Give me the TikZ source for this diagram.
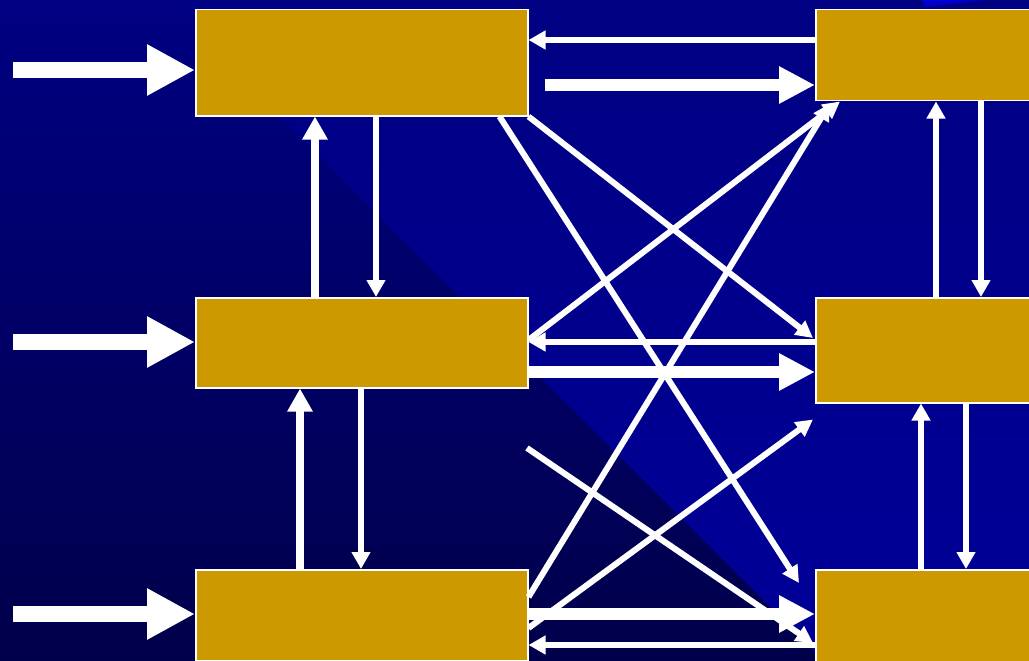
\documentclass[tikz,border=0pt]{standalone}
\usetikzlibrary{arrows.meta,calc}
\definecolor{gold}{HTML}{CC9900}
\definecolor{bgtop}{HTML}{000082}
\definecolor{bgbot}{HTML}{00004A}
\definecolor{rtop}{HTML}{000082}
\definecolor{rbot}{HTML}{000098}
\definecolor{streak}{HTML}{0000CC}
\tikzset{
  box/.style={draw=white, line width=1.5pt, fill=gold, inner sep=0pt, anchor=north west},
  bigarrow/.style={white, line width=16pt, -{Triangle[length=48pt,width=48pt]}},
  fatarrow/.style={white, line width=12pt, -{Triangle[length=36pt,width=35pt]}},
  midarrow/.style={white, line width=8pt, -{Triangle[length=23pt,width=24pt]}},
  thinarrow/.style={white, line width=6pt, -{Triangle[length=17pt,width=18pt]}},
  diagarrow/.style={white, line width=6pt, -{Triangle[length=17pt,width=17pt]}},
  diagline/.style={white, line width=6pt}
}
\begin{document}
\begin{tikzpicture}[x=1pt,y=-1pt]
\useasboundingbox (0,0) rectangle (1029,661);
\clip (0,0) rectangle (1029,661);
% background
\shade[top color=bgtop, bottom color=bgbot] (0,0) rectangle (1029,661);
\shade[top color=rtop, bottom color=rbot] (163,0) -- (1029,0) -- (1029,661) -- (824,661) -- cycle;
\fill[streak] (922,0) -- (925,7) -- (985,0) -- cycle;
% boxes
\node[box, minimum width=332pt, minimum height=106pt] (L1) at (195,9) {};
\node[box, minimum width=332pt, minimum height=90pt] (L2) at (195,297) {};
\node[box, minimum width=332pt, minimum height=91pt] (L3) at (195,569) {};
\node[box, minimum width=240pt, minimum height=91pt] (R1) at (815,9) {};
\node[box, minimum width=240pt, minimum height=105pt] (R2) at (815,297) {};
\node[box, minimum width=240pt, minimum height=96pt] (R3) at (815,569) {};
% inputs
\coordinate (in1) at (13,70);
\coordinate (in2) at (13,342);
\coordinate (in3) at (13,614);
\draw[bigarrow] (in1) -- (in1 -| L1.west);
\draw[bigarrow] (in2) -- (in2 -| L2.west);
\draw[bigarrow] (in3) -- (in3 -| L3.west);
% left verticals
\draw[midarrow] ($(L2.north west)+(120,0)$) -- ($(L1.south west)+(120,0)$);
\draw[thinarrow] ($(L1.south west)+(181,0)$) -- ($(L2.north west)+(181,0)$);
\draw[midarrow] ($(L3.north west)+(105,0)$) -- ($(L2.south west)+(105,0)$);
\draw[thinarrow] ($(L2.south west)+(166,0)$) -- ($(L3.north west)+(166,0)$);
% right verticals
\draw[thinarrow] ($(R2.north west)+(121,0)$) -- ($(R1.south west)+(121,0)$);
\draw[thinarrow] ($(R1.south west)+(166,0)$) -- ($(R2.north west)+(166,0)$);
\draw[thinarrow] ($(R3.north west)+(106,0)$) -- ($(R2.south west)+(106,0)$);
\draw[thinarrow] ($(R2.south west)+(151,0)$) -- ($(R3.north west)+(151,0)$);
% horizontals
\draw[thinarrow] ($(R1.north west)+(0,31)$) -- ($(L1.north east)+(0,31)$);
\draw[fatarrow] ($(L1.north east)+(16,76)$) -- ($(R1.north west)+(0,76)$);
\draw[thinarrow] ($(R2.north west)+(0,45)$) -- ($(L2.north east)+(0,45)$);
\draw[fatarrow] ($(L2.north east)+(0,75)$) -- ($(R2.north west)+(0,75)$);
\draw[fatarrow] ($(L3.north east)+(0,45)$) -- ($(R3.north west)+(0,45)$);
\draw[thinarrow] ($(R3.north west)+(0,76)$) -- ($(L3.north east)+(0,76)$);
% diagonals
\draw[diagarrow] (L1.south east) -- ($(R2.north west)+(-2,41)$);
\draw[diagarrow] ($(L1.south east)+(-29,0)$) -- ($(R3.north west)+(-16,14)$);
\draw[diagarrow] ($(L2.north east)+(0,43)$) -- ($(R1.south west)+(25,0)$);
\draw[diagarrow] ($(L3.north east)+(0,28)$) -- ($(R1.south west)+(15,2)$);
\coordinate (free) at (527,448);
\draw[diagarrow] (free) -- ($(R3.north west)+(-2,74)$);
\draw[diagarrow] ($(L3.north east)+(0,59)$) -- ($(R2.south west)+(-2,16)$);
\end{tikzpicture}
\end{document}
